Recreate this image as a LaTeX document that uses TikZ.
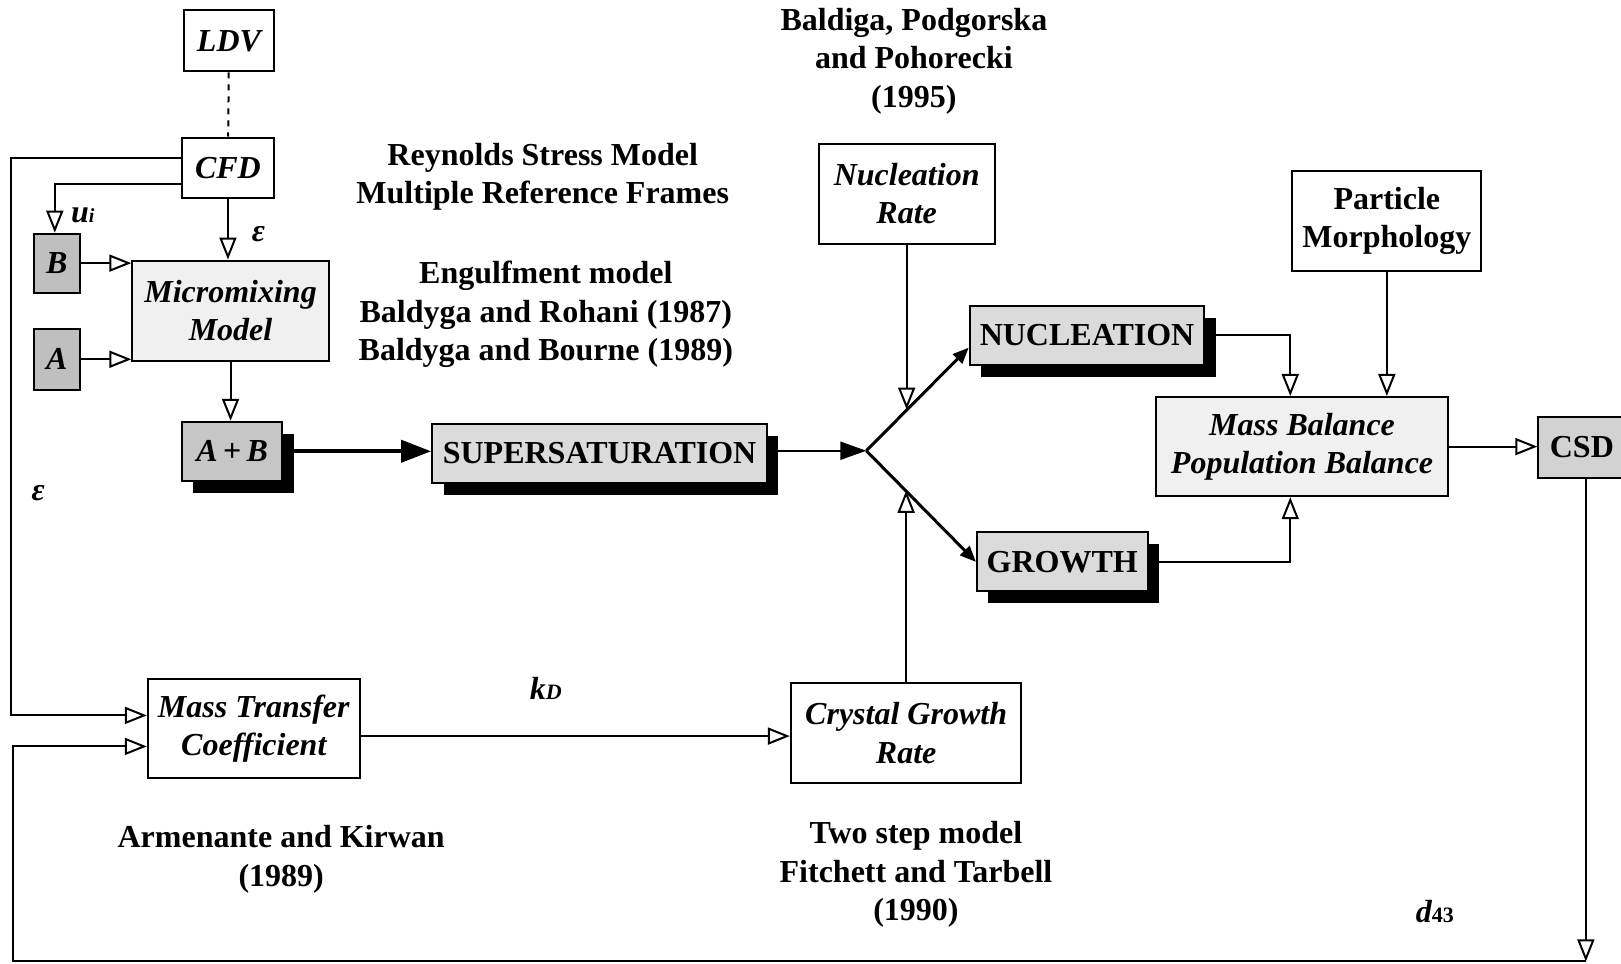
\documentclass[tikz,border=0pt]{standalone}
\usepackage{fontspec}
\setmainfont{Liberation Serif}
\usetikzlibrary{arrows.meta,shadows,calc}
\begin{document}
\begin{tikzpicture}[x=0.5169pt,y=-0.5169pt,
  every node/.style={font=\fontsize{16}{19.2}\selectfont\bfseries, align=center},
  box/.style={draw, line width=1pt, inner sep=0pt},
  sz/.style 2 args={minimum width=#1*0.5169pt, minimum height=#2*0.5169pt},
  it/.style={font=\fontsize{16}{19.2}\selectfont\bfseries\itshape},
  shadowed/.style={drop shadow={shadow xshift=5.7pt, shadow yshift=-6.0pt, fill=black, opacity=1}},
  oa/.style={line width=1pt, -{Triangle[open, length=11pt, width=8.5pt]}},
  bigarrow/.style={line width=2pt, -{Triangle[length=15pt, width=11pt]}},
  medarrow/.style={line width=1pt, -{Triangle[length=13pt, width=9pt]}},
  diag/.style={line width=1.5pt, -{Triangle[length=8pt, width=6.5pt]}},
  lbl/.style={font=\fontsize{16}{19.2}\selectfont\bfseries}
]
\useasboundingbox (0,0) rectangle (1568,932);

% boxes
\node[box, it, sz={87}{59}] (ldv) at (221.5,39.5) {LDV};
\node[box, it, sz={89}{59}] (cfd) at (220.5,162.5) {CFD};
\node[box, it, fill=gray!50, sz={44}{57}] (b) at (55,254.5) {B};
\node[box, it, fill=gray!50, sz={44}{59}] (a) at (55,347.5) {A};
\node[box, it, fill=gray!12, sz={190}{97}] (mm) at (223,300.5) {Micromixing\\Model};
\node[box, it, fill=gray!45, shadowed, sz={97}{57}] (ab) at (224.5,436.5) {A\,+\,B};
\node[box, fill=gray!28, shadowed, sz={324}{57}] (ss) at (580,438.5) {SUPERSATURATION};
\node[box, fill=gray!28, shadowed, sz={227}{57}] (nuc) at (1051.5,324.5) {NUCLEATION};
\node[box, fill=gray!28, shadowed, sz={165}{57}] (gr) at (1027.5,543.5) {GROWTH};
\node[box, it, sz={170}{97}] (nr) at (877,187.5) {Nucleation\\Rate};
\node[box, sz={183}{97}] (pm) at (1341.5,213.5) {Particle\\Morphology};
\node[box, it, fill=gray!12, sz={283}{96}] (mb) at (1259.5,432) {Mass Balance\\Population Balance};
\node[box, fill=gray!35, sz={92}{59}] (csd) at (1534,432.5) {CSD\hspace*{4pt}};
\node[box, it, sz={205}{96}] (mt) at (245.5,705) {Mass Transfer\\Coefficient};
\node[box, it, sz={223}{96}] (cg) at (876.5,709) {Crystal Growth\\Rate};

% text labels
\node[lbl] (t1) at (884,59) {Baldiga, Podgorska\\and Pohorecki\\(1995)};
\node[lbl] (t2) at (525,171) {Reynolds Stress Model\\Multiple Reference Frames};
\node[lbl] (t3) at (528,304) {Engulfment model\\Baldyga and Rohani (1987)\\Baldyga and Bourne (1989)};
\node[lbl] (t4) at (272,831) {Armenante and Kirwan\\(1989)};
\node[lbl] (t5) at (886,846) {Two step model\\Fitchett and Tarbell\\(1990)};
\node[it] (ui) at (80,208) {u{\fontsize{10}{10}\selectfont i}};
\node[it] (eps1) at (250,226) {ε};
\node[it] (eps2) at (37,477) {ε};
\node[it] (kd) at (528,666) {k{\fontsize{11}{11}\selectfont D}};
\node[it] (d43) at (1388,882) {d{\fontsize{11}{11}\selectfont\upshape 43}};

% coordinates
\coordinate (lt) at (11,153);
\coordinate (lm) at (11,692);
\coordinate (ub) at (53,178);
\coordinate (j) at (838,436);
\coordinate (nt) at ($(nuc.west)!0.4!(nuc.south west)$);
\coordinate (nj) at ($(j)!0.4!(nt)$);
\coordinate (gj) at ($(j)!0.36!(gr.west)$);
\coordinate (mbt) at ($(mb.north west)!0.46!(mb.north east)$);
\coordinate (mbb) at ($(mb.south west)!0.46!(mb.south east)$);
\coordinate (bot) at (0,930);
\coordinate (br) at (csd.south |- bot);
\coordinate (bl) at (13,930);
\coordinate (bl2) at (13,722);
\coordinate (mty) at (0,712);

% connectors
\draw[line width=1pt, dashed] (ldv) -- (cfd);
\draw[oa] (cfd.west |- lt) -- (lt) -- (lm) -- (mt.west |- lm);
\draw[oa] (cfd.west |- ub) -- (ub) -- (ub |- b.north);
\draw[oa] (cfd.south) -- (cfd.south |- mm.north);
\draw[oa] (b.east) -- (b.east -| mm.west);
\draw[oa] (a.east) -- (a.east -| mm.west);
\draw[oa] (mm.south) -- (mm.south |- ab.north);
\draw[bigarrow] (ab.east) -- (ab.east -| ss.west);
\draw[medarrow] (ss.east |- j) -- (j);
\draw[diag] (j) -- (nt);
\draw[diag] (j) -- (gr.west);
\draw[oa] (nr.south) -- (nr.south |- nj);
\draw[oa] (cg.north) -- (cg.north |- gj);
\draw[oa] (nuc.east) -| (mbt);
\draw[oa] (pm.south) -- (pm.south |- mb.north);
\draw[oa] (gr.east) -| (mbb);
\draw[oa] (mb.east) -- (mb.east -| csd.west);
\draw[oa] (csd.south) -- (br);
\draw[oa] (br) -- (bl) -- (bl2) -- (mt.west |- bl2);
\draw[oa] (mt.east |- mty) -- (cg.west |- mty);
\end{tikzpicture}
\end{document}
